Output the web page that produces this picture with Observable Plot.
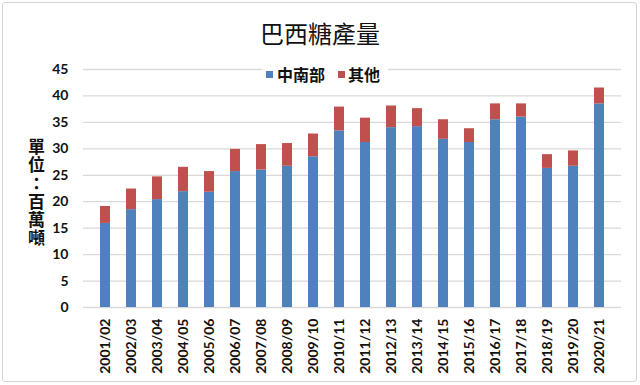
<!DOCTYPE html>
<html lang="zh-Hant">
<head>
<meta charset="utf-8">
<script src="https://cdn.jsdelivr.net/npm/d3@7"></script>
<script src="https://cdn.jsdelivr.net/npm/@observablehq/plot@0.6"></script>
<style>
  html, body { margin: 0; padding: 0; background: #fff; }
  #wrap { position: relative; width: 640px; height: 385px; overflow: hidden; background: #fff; }
  #frame { position: absolute; left: 2px; top: 2px; width: 633px; height: 378px; border: 1px solid #d4d4d4; border-radius: 3px; }
  #chart { position: absolute; left: 0; top: 0; }
  .abs { position: absolute; white-space: nowrap; }
  #title { left: 0; width: 640px; top: 16px; text-align: center; font-family: "Noto Sans CJK TC", sans-serif; font-size: 24px; line-height: 34px; color: #111; }
  #legendBg { left: 262px; top: 66px; width: 126px; height: 18px; background: #fff; }
  .sw { width: 7px; height: 7px; }
  .lt { font-family: "Noto Sans CJK TC", sans-serif; font-size: 16px; line-height: 20px; font-weight: bold; color: #111; }
  #ytitle { left: 26px; top: 138px; width: 20px; font-family: "Noto Sans CJK TC", sans-serif; font-size: 17px; font-weight: bold; line-height: 20px; letter-spacing: 1.3px; color: #111; writing-mode: vertical-rl; text-orientation: upright; }
</style>
</head>
<body>
<div id="wrap">
  <div id="frame" class="abs"></div>
  <div id="chart"></div>
  <div id="title" class="abs"></div>
  <div id="legendBg" class="abs"></div>
  <div id="legend"></div>
  <div id="ytitle" class="abs" lang="zh-Hant"></div>
</div>
<script>
const chartTitle = "巴西糖產量";
const yAxisTitle = "單位：百萬噸";
const seasons = ["2001/02","2002/03","2003/04","2004/05","2005/06","2006/07","2007/08","2008/09","2009/10","2010/11",
                 "2011/12","2012/13","2013/14","2014/15","2015/16","2016/17","2017/18","2018/19","2019/20","2020/21"];
const seriesNames = ["中南部", "其他"];
const seriesColors = ["#4f81bd", "#c0504d"];
const centerSouth = [15.9, 18.5, 20.4, 21.9, 21.8, 25.7, 26.0, 26.7, 28.5, 33.4,
                     31.2, 34.0, 34.2, 31.8, 31.2, 35.5, 36.0, 26.3, 26.7, 38.5];
const others =      [3.2, 3.9, 4.3, 4.6, 3.9, 4.2, 4.8, 4.3, 4.3, 4.5,
                     4.6, 4.1, 3.4, 3.7, 2.6, 3.0, 2.5, 2.6, 2.9, 3.0];
const yTicks = [0, 5, 10, 15, 20, 25, 30, 35, 40, 45];

const rows = [];
seasons.forEach((s, i) => rows.push({season: s, series: seriesNames[0], value: centerSouth[i]}));
seasons.forEach((s, i) => rows.push({season: s, series: seriesNames[1], value: others[i]}));

const chart = Plot.plot({
  width: 640,
  height: 385,
  marginTop: 69,
  marginBottom: 78,
  marginLeft: 83,
  marginRight: 19,
  style: {fontFamily: "Lato, 'Noto Sans', sans-serif", fontSize: "14px", fontWeight: "bold", color: "#111", background: "transparent"},
  x: {domain: seasons, paddingInner: 0.61, paddingOuter: 0.305, label: null},
  y: {domain: [0, 45], label: null},
  color: {domain: seriesNames, range: seriesColors},
  marks: [
    Plot.ruleY(yTicks, {stroke: "#d9d9d9", strokeWidth: 1.3}),
    Plot.barY(rows, {x: "season", y: "value", fill: "series"}),
    Plot.axisY({ticks: yTicks, tickSize: 0, tickPadding: 15, label: null}),
    Plot.axisX({tickSize: 0, tickPadding: 11, tickRotate: -90, label: null, style: {letterSpacing: "1px"}})
  ]
});
document.getElementById("chart").appendChild(chart);

document.getElementById("title").textContent = chartTitle;
document.getElementById("ytitle").textContent = yAxisTitle;

const legend = document.getElementById("legend");
const legendPos = [{sq: 266, tx: 277}, {sq: 338, tx: 348}];
seriesNames.forEach((name, i) => {
  const sq = document.createElement("div");
  sq.className = "abs sw";
  sq.style.left = legendPos[i].sq + "px";
  sq.style.top = "71px";
  sq.style.background = seriesColors[i];
  legend.appendChild(sq);
  const t = document.createElement("div");
  t.className = "abs lt";
  t.style.left = legendPos[i].tx + "px";
  t.style.top = "64px";
  t.textContent = name;
  legend.appendChild(t);
});
</script>
</body>
</html>
